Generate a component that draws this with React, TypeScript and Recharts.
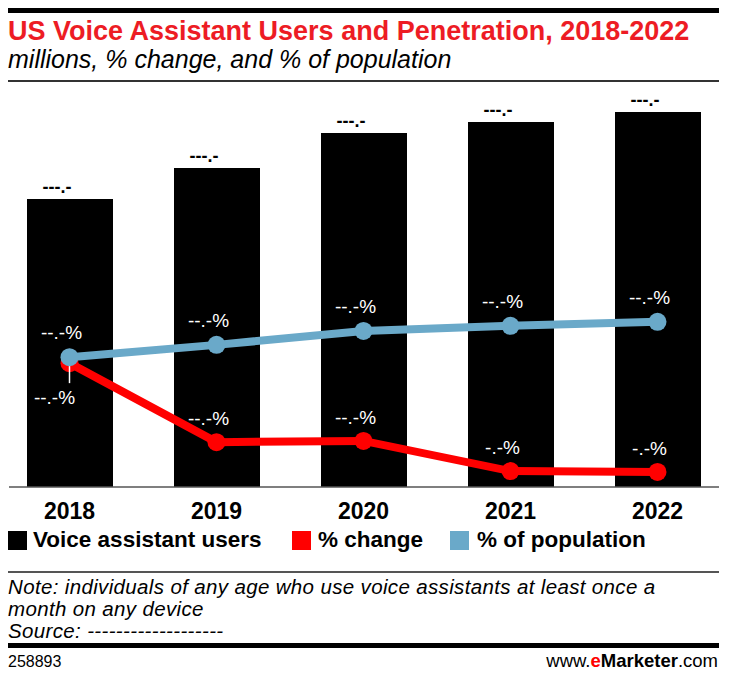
import React from "react"
import { ComposedChart, Bar, Line, XAxis, YAxis, LabelList } from "recharts"

const years = ["2018", "2019", "2020", "2021", "2022"]
const users = [101.6, 112.5, 124.8, 128.7, 132.2]
const pctChange = [31.2, 11.3, 11.6, 4.0, 3.8]
const pctPopulation = [32.7, 35.8, 39.3, 40.6, 41.6]
const usersLabels = ["---.-", "---.-", "---.-", "---.-", "---.-"]
const changeLabels = ["--.-%", "--.-%", "--.-%", "-.-%", "-.-%"]
const populationLabels = ["--.-%", "--.-%", "--.-%", "--.-%", "--.-%"]

const data = years.map((year, i) => ({
    year,
    users: users[i],
    change: pctChange[i],
    population: pctPopulation[i],
}))

const FONT = "'Liberation Sans', Arial, sans-serif"
const RED = "#ff0000"
const BLUE = "#6aa9c9"

const YearTick = (props: any) => {
    const { x, y, payload } = props
    return (
        <text x={x} y={y + 32} textAnchor="middle" fontFamily={FONT} fontWeight="bold" fontSize={23} fill="#000">
            {payload.value}
        </text>
    )
}

const BarLabel = (props: any) => {
    const { x, y, width, index } = props
    return (
        <text x={x + width / 2 - 13} y={y - 6} textAnchor="middle" fontFamily={FONT} fontWeight="bold" fontSize={18} fill="#000">
            {usersLabels[index]}
        </text>
    )
}

const PopLabel = (props: any) => {
    const { x, y, index } = props
    return (
        <text x={x - 8} y={y - 18} textAnchor="middle" fontFamily={FONT} fontSize={19} fill="#fff">
            {populationLabels[index]}
        </text>
    )
}

const ChangeLabel = (props: any) => {
    const { x, y, index } = props
    if (index === 0) {
        return (
            <g>
                <line x1={x} y1={y + 3} x2={x} y2={y + 20} stroke="#fff" strokeWidth={1.5} />
                <text x={x - 15} y={y + 41} textAnchor="middle" fontFamily={FONT} fontSize={19} fill="#fff">
                    {changeLabels[index]}
                </text>
            </g>
        )
    }
    return (
        <text x={x - 8} y={y - 17} textAnchor="middle" fontFamily={FONT} fontSize={19} fill="#fff">
            {changeLabels[index]}
        </text>
    )
}

const rule = (top: number, h: number, color = "#000") => (
    <div style={{ position: "absolute", left: 8, top, width: 711, height: h, background: color }} />
)

const legendItem = (left: number, textLeft: number, color: string, label: string) => (
    <>
        <div style={{ position: "absolute", left, top: 531, width: 19, height: 19, background: color }} />
        <div style={{ position: "absolute", left: textLeft, top: 529, fontFamily: FONT, fontWeight: "bold", fontSize: 22.5, lineHeight: "22.5px", whiteSpace: "nowrap" }}>
            {label}
        </div>
    </>
)

export default function App() {
    return (
        <div style={{ position: "absolute", left: 0, top: 0, width: 729, height: 681, background: "#fff", overflow: "hidden" }}>
            {rule(8, 5)}
            <div style={{ position: "absolute", left: 8, top: 18, fontFamily: FONT, fontWeight: "bold", fontSize: 27, lineHeight: "27px", color: "#ed1c24", whiteSpace: "nowrap" }}>
                US Voice Assistant Users and Penetration, 2018-2022
            </div>
            <div style={{ position: "absolute", left: 8, top: 47, fontFamily: FONT, fontStyle: "italic", fontSize: 25, lineHeight: "25px", color: "#000", whiteSpace: "nowrap" }}>
                millions, % change, and % of population
            </div>
            {rule(80, 1.5, "#333")}

            <div style={{ position: "absolute", left: 0, top: 80 }}>
                <ComposedChart width={729} height={447} data={data} margin={{ top: 10, right: 10, left: 9, bottom: 0 }}>
                    <XAxis
                        dataKey="year"
                        axisLine={{ stroke: "#555", strokeWidth: 1.5 }}
                        tickLine={false}
                        tickSize={0}
                        tickMargin={0}
                        height={40}
                        padding={{ left: -13, right: -12 }}
                        tick={<YearTick />}
                        interval={0}
                    />
                    <YAxis yAxisId="left" domain={[0, 140]} hide />
                    <YAxis yAxisId="right" orientation="right" domain={[0, 100]} hide />
                    <Bar yAxisId="left" dataKey="users" fill="#000" barSize={86} isAnimationActive={false}>
                        <LabelList dataKey="users" content={<BarLabel />} />
                    </Bar>
                    <Line yAxisId="right" dataKey="change" stroke={RED} strokeWidth={8} dot={{ r: 9, fill: RED, stroke: "none" }} activeDot={false} isAnimationActive={false}>
                        <LabelList dataKey="change" content={<ChangeLabel />} />
                    </Line>
                    <Line yAxisId="right" dataKey="population" stroke={BLUE} strokeWidth={8} dot={{ r: 9, fill: BLUE, stroke: "none" }} activeDot={false} isAnimationActive={false}>
                        <LabelList dataKey="population" content={<PopLabel />} />
                    </Line>
                </ComposedChart>
            </div>

            {legendItem(8, 33, "#000", "Voice assistant users")}
            {legendItem(292, 318, RED, "% change")}
            {legendItem(450, 477, BLUE, "% of population")}

            {rule(571, 1.5, "#555")}
            <div style={{ position: "absolute", left: 8, top: 576, width: 720, fontFamily: FONT, fontStyle: "italic", fontSize: 20.5, lineHeight: "22px", letterSpacing: "0.35px", color: "#000", whiteSpace: "nowrap" }}>
                Note: individuals of any age who use voice assistants at least once a<br />
                month on any device<br />
                Source: -------------------
            </div>
            {rule(643, 5)}
            <div style={{ position: "absolute", left: 8, top: 654, fontFamily: FONT, fontSize: 16, lineHeight: "16px", color: "#000" }}>
                258893
            </div>
            <div style={{ position: "absolute", right: 11, top: 652, fontFamily: FONT, fontSize: 18.5, lineHeight: "18.5px", color: "#000", whiteSpace: "nowrap" }}>
                www.<span style={{ color: RED, fontWeight: "bold" }}>e</span><span style={{ fontWeight: "bold" }}>Marketer</span>.com
            </div>
        </div>
    )
}
